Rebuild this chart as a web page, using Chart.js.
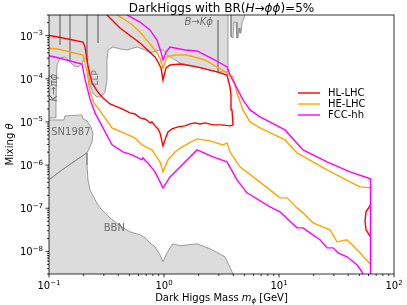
<!DOCTYPE html>
<html>
<head>
<meta charset="utf-8">
<script src="https://cdn.jsdelivr.net/npm/chart.js@4.4.1/dist/chart.umd.min.js"></script>
<style>
  body { margin: 0; background: #fff; }
  canvas { display: block; }
</style>
</head>
<body>
<canvas id="chart" width="407" height="305"></canvas>
<script>
// Axis ticks
const xTicks = [0.1, 1, 10, 100];
const yTicks = [1e-8, 1e-7, 1e-6, 1e-5, 1e-4, 1e-3];

// Sensitivity curves [mass GeV, mixing]
const hlLhc = [
    [0.09, 1.05e-3], [0.1197, 9.29e-4], [0.1975, 7.11e-4], [0.2056, 5.45e-4], [0.2183, 1.98e-4],
    [0.2365, 8.0e-5], [0.2615, 5.22e-5], [0.2949, 3.6e-5], [0.3392, 2.61e-5], [0.4313, 2.0e-5],
    [0.5061, 1.62e-5], [0.5596, 1.53e-5], [0.6185, 1.24e-5], [0.6834, 1.17e-5], [0.7256, 1.05e-5],
    [0.7554, 9.48e-6], [0.7862, 1.0e-5], [0.835, 8.09e-6], [0.8867, 6.89e-6], [0.9231, 5.56e-6],
    [0.9802, 2.79e-6], [1.041, 4.5e-6], [1.083, 5.87e-6], [1.174, 6.89e-6], [1.323, 7.67e-6],
    [1.523, 8.09e-6], [1.683, 8.99e-6], [1.861, 9.48e-6], [2.056, 8.99e-6], [2.273, 9.48e-6],
    [2.668, 8.53e-6], [3.193, 8.53e-6], [3.75, 8.09e-6], [3.981, 8.53e-6], [3.902, 1.9e-5],
    [3.825, 4.22e-5], [3.75, 6.46e-5], [3.53, 1.22e-4], [2.89, 1.44e-4], [1.936, 1.88e-4],
    [1.377, 2.2e-4], [1.128, 2.09e-4], [1.041, 1.78e-4], [0.9802, 9.38e-5], [0.9417, 1.78e-4],
    [0.8867, 2.45e-4], [0.835, 3.2e-4], [0.6185, 6.74e-4], [0.4143, 1.5e-3], [0.3194, 3.0e-3],
    [0.2777, 4.35e-3]
];
const hlLhcHigh = [
    [62.5, 1.2e-7], [57.1, 8.26e-8], [55.96, 5.11e-8], [57.1, 3.16e-8], [62.5, 2.18e-8]
];
const heLhc = [
    [0.09, 5.2e-4], [0.1197, 4.9e-4], [0.1975, 3.56e-4], [0.214, 1.44e-4], [0.2272, 4.95e-5],
    [0.2462, 2.75e-5], [0.2777, 1.8e-5], [0.3531, 7.27e-6], [0.5596, 4.26e-6], [0.6436, 2.94e-6],
    [0.7862, 2.25e-6], [0.9231, 1.19e-6], [0.9802, 6.96e-7], [1.083, 1.32e-6], [1.246, 2.02e-6],
    [1.434, 2.64e-6], [1.936, 4.04e-6], [2.512, 3.64e-6], [3.258, 2.94e-6], [3.53, 3.27e-6],
    [3.75, 2.02e-6], [4.58, 9.09e-7], [6.437, 4.55e-7], [8.353, 2.67e-7], [10.2, 1.74e-7],
    [11.74, 1.74e-7], [14.34, 1.02e-7], [16.17, 7.83e-8], [19.76, 4.59e-8], [27.77, 3.16e-8],
    [31.94, 1.67e-8], [39.02, 1.86e-8], [50.61, 9.29e-9], [62.5, 5.0e-9], [62.5, 2.97e-7],
    [50.61, 3.13e-7], [41.44, 4.09e-7], [26.15, 7.74e-7], [14.34, 1.92e-6], [11.28, 3.83e-6],
    [6.836, 7.27e-6], [5.596, 1.0e-5], [4.864, 1.9e-5], [4.313, 4.69e-5], [3.981, 1.1e-4],
    [3.53, 1.36e-4], [2.273, 2.72e-4], [1.585, 3.56e-4], [1.246, 3.56e-4], [1.062, 3.2e-4],
    [0.9802, 1.78e-4], [0.9231, 3.03e-4], [0.835, 4.64e-4], [0.6185, 1.21e-3], [0.5061, 1.96e-3],
    [0.3903, 3.0e-3], [0.37, 4.2e-3]
];
const fccHh = [
    [0.09, 3.6e-4], [0.1128, 3.2e-4], [0.1936, 2.2e-4], [0.2056, 9.9e-5], [0.2272, 3.41e-5],
    [0.2512, 1.62e-5], [0.3531, 2.94e-6], [0.4399, 2.02e-6], [0.5268, 1.72e-6], [0.6436, 1.32e-6],
    [0.6567, 1.47e-6], [0.6834, 1.3e-6], [0.7256, 1.12e-6], [0.835, 6.96e-7], [0.9802, 2.97e-7],
    [1.128, 5.33e-7], [1.377, 9.09e-7], [1.936, 2.25e-6], [2.668, 1.55e-6], [3.53, 1.19e-6],
    [4.313, 4.55e-7], [5.271, 2.28e-7], [8.353, 1.08e-7], [10.2, 8.26e-8], [14.34, 3.52e-8],
    [16.17, 3.52e-8], [18.61, 2.7e-8], [22.73, 1.86e-8], [26.15, 1.21e-8], [29.49, 1.21e-8],
    [32.6, 9.29e-9], [39.02, 7.5e-9], [47.68, 4.9e-9], [52.7, 3.37e-9], [55, 2e-9],
    [62.5, 2e-9], [62.5, 4.8e-7], [41.44, 6.96e-7], [26.15, 1.19e-6], [16.17, 2.25e-6],
    [11.28, 6.53e-6], [6.836, 1.31e-5], [5.596, 1.9e-5], [4.864, 3.23e-5], [3.75, 1.22e-4],
    [3.53, 1.88e-4], [2.777, 2.72e-4], [1.936, 4.4e-4], [1.523, 4.64e-4], [1.128, 5.45e-4],
    [1.041, 4.17e-4], [0.9802, 2.72e-4], [0.9417, 4.17e-4], [0.8689, 7.91e-4], [0.7554, 1.35e-3],
    [0.6185, 2.06e-3], [0.4768, 3.0e-3], [0.44, 4.2e-3]
];

// Excluded regions (closed outlines)
const topExcl = [
    [0.09, 4e-3], [0.09, 1.24e-5], [0.1128, 1.24e-5], [0.115, 3.23e-5], [0.1174, 2.09e-4],
    [0.1247, 3.03e-4], [0.1377, 3.2e-4], [0.1523, 2.45e-4], [0.165, 1.98e-4], [0.1788, 1.88e-4],
    [0.1936, 2.2e-4], [0.2014, 3.03e-4], [0.214, 2.72e-4], [0.2183, 1.6e-4], [0.2272, 7.19e-5],
    [0.2413, 4.69e-5], [0.2615, 3.79e-5], [0.2833, 3.79e-5], [0.3069, 4.95e-5], [0.3194, 9.38e-5],
    [0.3194, 2.72e-4], [0.326, 4.64e-4], [0.3602, 5.45e-4], [0.4143, 4.9e-4], [0.4768, 4.64e-4],
    [0.5823, 5.45e-4], [0.6834, 4.64e-4], [0.7554, 3.96e-4], [0.9231, 4.64e-4], [0.9802, 4.64e-4],
    [1.062, 3.56e-4], [1.377, 2.32e-4], [1.936, 1.88e-4], [2.89, 1.44e-4], [3.602, 1.44e-4],
    [3.602, 4e-3], [0.09, 4e-3]
];
const spikeExcl = [
    [3.825, 4e-3], [3.825, 9.29e-4], [3.981, 8.81e-4], [4.062, 2.06e-3], [4.228, 2.06e-3],
    [4.313, 8.81e-4], [4.401, 8.81e-4], [4.49, 1.5e-3], [4.58, 1.15e-3], [4.673, 1.15e-3],
    [4.768, 2.06e-3], [4.963, 2.56e-3], [5.164, 4e-3], [3.825, 4e-3]
];
const sn1987 = [
    [0.09, 1.11e-5], [0.135, 1.11e-5], [0.1377, 1.38e-5], [0.1936, 1.45e-5], [0.1975, 1.17e-5],
    [0.214, 1.05e-5], [0.2318, 7.67e-6], [0.2413, 5.27e-6], [0.2365, 3.45e-6], [0.2228, 2.37e-6],
    [0.214, 1.92e-6], [0.1683, 1.25e-6], [0.1297, 7.74e-7], [0.1, 4.55e-7], [0.09, 3.8e-7],
    [0.09, 1.11e-5]
];
const bbn = [
    [0.09, 1e-9], [0.09, 3.8e-7], [0.1, 4.55e-7], [0.1297, 7.74e-7], [0.1683, 1.25e-6],
    [0.214, 1.92e-6], [0.214, 1.01e-6], [0.2183, 4.5e-7], [0.2272, 2.67e-7], [0.2512, 1.57e-7],
    [0.2777, 1.02e-7], [0.3392, 6.0e-8], [0.4143, 3.92e-8], [0.5061, 2.84e-8], [0.6185, 2.42e-8],
    [0.6834, 2.07e-8], [0.7554, 1.58e-8], [0.835, 1.28e-8], [0.9231, 8.34e-9], [0.9802, 5.74e-9],
    [1.062, 9.29e-9], [1.197, 1.5e-8], [1.377, 1.35e-8], [1.936, 1.5e-8], [2.512, 1.15e-8],
    [3.392, 7.5e-9], [3.981, 3.03e-9], [4.1, 1e-9], [0.09, 1e-9]
];
// inner boundaries between overlapping limits
const innerLines = [
    [[0.1247, 4e-3], [0.1247, 6.07e-4]],
    [[0.1523, 4e-3], [0.1523, 2.72e-4]],
    [[0.214, 4e-3], [0.214, 2.45e-4]],
    [[0.2668, 4e-3], [0.2668, 6.74e-4]],
    [[2.949, 2.3e-3], [2.949, 1.44e-4]]
];

const GREY_FILL = '#dcdcdc';
const GREY_EDGE = '#858585';
const FONT = '"DejaVu Sans", sans-serif';

const toPts = arr => arr.map(p => ({ x: p[0], y: p[1] }));

function curve(label, data, color, order) {
    return { label, data: toPts(data), showLine: true, borderColor: color, borderWidth: 1.4,
        pointRadius: 0, fill: false, order, isCurve: true };
}
function region(data) {
    return { data: toPts(data), showLine: true, borderColor: GREY_EDGE, borderWidth: 0.8,
        backgroundColor: GREY_FILL, pointRadius: 0, fill: 'shape', order: 20 };
}
function edge(data) {
    return { data: toPts(data), showLine: true, borderColor: GREY_EDGE, borderWidth: 0.8,
        pointRadius: 0, fill: false, order: 15 };
}

// draw a string made of normal / italic / shifted pieces
function richText(ctx, parts, x, y, align) {
    let total = 0;
    parts.forEach(p => {
        ctx.font = (p.italic ? 'italic ' : '') + (p.size || 10) + 'px ' + FONT;
        p.w = ctx.measureText(p.t).width;
        total += p.w;
    });
    let cx = align === 'center' ? x - total / 2 : (align === 'right' ? x - total : x);
    ctx.textAlign = 'left';
    parts.forEach(p => {
        ctx.font = (p.italic ? 'italic ' : '') + (p.size || 10) + 'px ' + FONT;
        ctx.fillText(p.t, cx, y + (p.dy || 0));
        cx += p.w;
    });
}

const decor = {
    id: 'decor',
    afterDraw(chart) {
        const ctx = chart.ctx, a = chart.chartArea;
        const xs = chart.scales.x, ys = chart.scales.y;
        ctx.save();

        // region labels
        ctx.fillStyle = '#6e6e6e';
        ctx.textBaseline = 'middle';
        ctx.font = '10px ' + FONT;
        ctx.textAlign = 'center';
        ctx.fillText('SN1987', xs.getPixelForValue(0.155), ys.getPixelForValue(5.6e-6));
        ctx.fillText('BBN', xs.getPixelForValue(0.37), ys.getPixelForValue(3.4e-8));
        richText(ctx, [{ t: 'B', italic: true }, { t: '→' }, { t: 'K', italic: true }, { t: 'ϕ', italic: true }],
            xs.getPixelForValue(2.0), ys.getPixelForValue(2.0e-3), 'center');
        ctx.save();
        ctx.translate(xs.getPixelForValue(0.112), ys.getPixelForValue(6.2e-5));
        ctx.rotate(-Math.PI / 2);
        richText(ctx, [{ t: 'K', italic: true }, { t: '→' }, { t: 'πϕ', italic: true }], 0, 0, 'center');
        ctx.restore();
        ctx.save();
        ctx.translate(xs.getPixelForValue(0.252), ys.getPixelForValue(7.0e-5));
        ctx.rotate(-Math.PI / 2);
        ctx.font = '9px ' + FONT;
        ctx.fillText('LLP', 0, 0);
        ctx.restore();

        // spines
        ctx.strokeStyle = '#000';
        ctx.lineWidth = 0.8;
        ctx.strokeRect(a.left, a.top, a.right - a.left, a.bottom - a.top);

        // ticks
        ctx.beginPath();
        for (let d = -1; d < 2; d++) {
            for (let k = 1; k < 10; k++) {
                const px = xs.getPixelForValue(k * Math.pow(10, d));
                const len = k === 1 ? 3.5 : 2;
                ctx.moveTo(px, a.bottom); ctx.lineTo(px, a.bottom + len);
            }
        }
        ctx.moveTo(xs.getPixelForValue(100), a.bottom); ctx.lineTo(xs.getPixelForValue(100), a.bottom + 3.5);
        for (let d = -9; d < -2; d++) {
            for (let k = 1; k < 10; k++) {
                const v = k * Math.pow(10, d);
                if (v < ys.min || v > ys.max) continue;
                const py = ys.getPixelForValue(v);
                const len = k === 1 ? 3.5 : 2;
                ctx.moveTo(a.left, py); ctx.lineTo(a.left - len, py);
            }
        }
        ctx.stroke();

        // tick labels
        ctx.fillStyle = '#000';
        ctx.textBaseline = 'alphabetic';
        xTicks.forEach(v => {
            const e = Math.round(Math.log10(v));
            const ex = (e < 0 ? '−' : '') + Math.abs(e);
            richText(ctx, [{ t: '10' }, { t: ex, size: 7, dy: -4.5 }], xs.getPixelForValue(v), a.bottom + 15, 'center');
        });
        yTicks.forEach(v => {
            const e = Math.round(Math.log10(v));
            const ex = (e < 0 ? '−' : '') + Math.abs(e);
            richText(ctx, [{ t: '10' }, { t: ex, size: 7, dy: -4.5 }], a.left - 6, ys.getPixelForValue(v) + 4, 'right');
        });

        // titles
        const cx = (a.left + a.right) / 2;
        richText(ctx, [{ t: 'DarkHiggs with BR(', size: 12 }, { t: 'H', italic: true, size: 12 }, { t: '→', size: 12 },
            { t: 'ϕϕ', italic: true, size: 12 }, { t: ')=5%', size: 12 }], cx, 12, 'center');
        richText(ctx, [{ t: 'Dark Higgs Mass ' }, { t: 'm', italic: true }, { t: 'ϕ', italic: true, size: 7, dy: 2 },
            { t: ' [GeV]' }], cx, a.bottom + 27, 'center');
        ctx.save();
        ctx.translate(13, (a.top + a.bottom) / 2);
        ctx.rotate(-Math.PI / 2);
        richText(ctx, [{ t: 'Mixing ' }, { t: 'θ', italic: true }], 0, 0, 'center');
        ctx.restore();

        // legend
        const curves = chart.data.datasets.filter(ds => ds.isCurve);
        ctx.textBaseline = 'middle';
        ctx.font = '10px ' + FONT;
        ctx.textAlign = 'left';
        curves.forEach((ds, i) => {
            const y = a.top + 78 + i * 11;
            ctx.strokeStyle = ds.borderColor;
            ctx.lineWidth = 1.4;
            ctx.beginPath();
            ctx.moveTo(a.right - 96, y); ctx.lineTo(a.right - 74, y);
            ctx.stroke();
            ctx.fillStyle = '#000';
            ctx.fillText(ds.label, a.right - 66, y);
        });
        ctx.restore();
    }
};

const datasets = [
    curve('HL-LHC', hlLhc, '#ff0000', 3),
    curve('HE-LHC', heLhc, '#ffa500', 2),
    curve('FCC-hh', fccHh, '#ff00ff', 1),
    Object.assign(curve('', hlLhcHigh, '#ff0000', 3), { isCurve: false }),
    region(bbn),
    region(sn1987),
    region(topExcl),
    region(spikeExcl)
];
innerLines.forEach(l => datasets.push(edge(l)));

new Chart(document.getElementById('chart'), {
    type: 'scatter',
    data: { datasets },
    options: {
        responsive: false,
        animation: false,
        layout: { padding: { top: 15, right: 13, left: 0, bottom: 0 } },
        scales: {
            x: {
                type: 'logarithmic', min: 0.1, max: 100,
                grid: { display: false }, border: { display: false },
                ticks: { display: false },
                afterFit: s => { s.height = 31; }
            },
            y: {
                type: 'logarithmic', min: 3e-9, max: 3e-3,
                grid: { display: false }, border: { display: false },
                ticks: { display: false },
                afterFit: s => { s.width = 49; }
            }
        },
        plugins: {
            legend: { display: false },
            tooltip: { enabled: false },
            filler: { drawTime: 'beforeDatasetsDraw' }
        }
    },
    plugins: [decor]
});
</script>
</body>
</html>
